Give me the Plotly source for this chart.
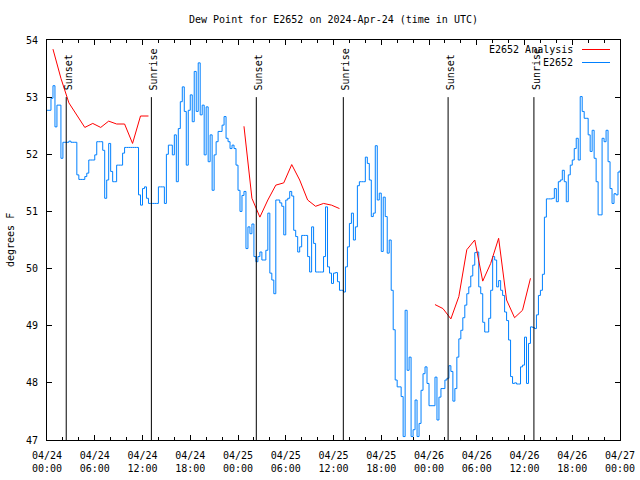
import plotly.graph_objects as go
import pandas as pd

# ---------------- data ----------------
# E2652 observations, every 15 minutes from 2024-04-24 00:00 UTC (deg F)
obs_day1 = [
    52.77, 52.77, 52.98, 53.20, 52.48, 52.86, 52.86, 51.93, 52.21, 52.21, 52.21, 52.23,
    52.21, 52.21, 52.21, 51.64, 51.56, 51.56, 51.56, 51.61, 51.67, 51.90, 51.90, 51.90,
    51.99, 52.22, 52.22, 52.22, 52.07, 51.23, 51.55, 52.19, 51.70, 51.52, 51.52, 51.81,
    51.81, 51.81, 52.02, 52.12, 52.12, 52.12, 52.12, 52.12, 52.12, 52.12, 51.29, 51.11,
    51.40, 51.43, 51.23, 51.14, 51.14, 51.14, 51.14, 51.14, 51.43, 51.43, 51.43, 51.14,
    52.00, 52.16, 52.16, 51.99, 52.34, 51.52, 52.45, 52.92, 53.18, 52.75, 51.81, 52.77,
    53.04, 52.57, 53.45, 52.75, 53.60, 52.69, 52.86, 51.99, 52.83, 51.87, 52.34, 51.37,
    51.99, 52.22, 52.40, 52.40, 52.51, 52.66, 52.28, 52.22, 52.10, 52.16, 52.10, 51.81,
]
obs_day2 = [
    51.37, 51.00, 51.28, 51.35, 50.35, 50.73, 50.61, 50.78, 50.21, 50.12, 50.21, 50.29,
    50.15, 50.15, 50.32, 50.97, 49.92, 49.80, 49.56, 51.20, 51.20, 51.15, 51.09, 50.59,
    51.20, 51.23, 51.35, 51.27, 50.67, 50.56, 50.29, 50.38, 50.58, 50.58, 50.58, 50.21,
    49.94, 50.73, 50.44, 49.94, 49.94, 49.94, 49.94, 50.21, 51.08, 50.03, 49.92, 49.74,
    49.92, 49.93, 49.77, 49.62, 49.62, 49.59, 50.03, 50.38, 50.79, 50.97, 50.50, 50.73,
    51.45, 51.52, 51.52, 51.52, 51.95, 51.84, 51.55, 50.91, 50.97, 52.15, 51.20, 51.32,
    50.30, 51.25, 50.91, 50.27, 50.50, 49.62, 48.93, 48.05, 47.93, 47.93, 47.76, 47.06,
    49.27, 48.22, 48.45, 47.06, 47.18, 47.70, 47.06, 47.29, 47.87, 48.16, 48.28, 47.99,
]
obs_day3 = [
    47.60, 47.60, 47.60, 48.10, 47.35, 47.75, 47.90, 47.90, 48.05, 48.08, 48.30, 48.20,
    47.68, 47.90, 48.45, 48.77, 48.92, 49.14, 49.36, 49.56, 49.68, 49.87, 50.06, 50.28,
    50.29, 49.68, 49.56, 49.06, 48.89, 48.89, 49.13, 49.62, 50.21, 50.15, 49.68, 49.79,
    49.62, 49.53, 49.24, 49.09, 48.75, 48.11, 47.99, 48.00, 47.98, 47.98, 48.28, 48.31,
    48.80, 47.99, 48.69, 48.98, 48.97, 48.95, 49.19, 49.53, 49.62, 49.90, 50.90, 51.22,
    51.22, 51.22, 51.23, 51.40, 51.17, 51.52, 51.55, 51.72, 51.52, 51.17, 51.64, 51.81,
    51.90, 52.10, 52.28, 51.90, 53.01, 52.75, 52.63, 52.63, 52.34, 52.05, 52.42, 51.93,
    51.52, 50.94, 50.94, 52.28, 52.22, 52.42, 51.87, 51.40, 51.14, 51.31, 51.29, 51.69,
    51.72,
]

# E2652 Analysis, hourly from 00:45 to 12:45 each day (deg F)
analysis_starts = ["2024-04-24 00:45", "2024-04-25 00:45", "2024-04-26 00:45"]
analysis_day1 = [53.84, 53.33, 52.90, 52.68, 52.47, 52.54, 52.47, 52.58, 52.53, 52.53, 52.19, 52.67, 52.67]
analysis_day2 = [52.49, 51.23, 50.90, 51.20, 51.46, 51.50, 51.82, 51.55, 51.20, 51.09, 51.14, 51.11, 51.05]
analysis_day3 = [49.37, 49.30, 49.12, 49.51, 50.33, 50.50, 49.78, 50.09, 50.53, 49.45, 49.14, 49.27, 49.83]

sunset_times = ["2024-04-24 02:25", "2024-04-25 02:18", "2024-04-26 02:24"]
sunrise_times = ["2024-04-24 13:07", "2024-04-25 13:14", "2024-04-26 13:11"]

y_range = [47, 54]
x_range = ["2024-04-24 00:00", "2024-04-27 00:00"]
sun_line_top = 53

# ---------------- build ----------------
FONT = "DejaVu Sans Mono"
RED = "#ff0000"
BLUE = "#0080ff"

FIG_W, FIG_H = 640, 480
W0, W1 = 47, 620   # plot area, pixels
H0, H1 = 40, 440

obs_values = obs_day1 + obs_day2 + obs_day3
obs_times = pd.date_range("2024-04-24 00:00", periods=len(obs_values), freq="15min")

ax, ay = [], []
for s, vals in zip(analysis_starts, [analysis_day1, analysis_day2, analysis_day3]):
    t = pd.date_range(s, periods=len(vals), freq="1h")
    ax += list(t) + [None]
    ay += list(vals) + [None]

fig = go.Figure()
fig.add_trace(go.Scatter(x=obs_times, y=obs_values, mode="lines",
                         line=dict(color=BLUE, width=1, shape="hv"),
                         name="E2652", showlegend=False))
fig.add_trace(go.Scatter(x=ax, y=ay, mode="lines", connectgaps=False,
                         line=dict(color=RED, width=1),
                         name="E2652 Analysis", showlegend=False))

shapes = []
annotations = []
for label, times in (("Sunset", sunset_times), ("Sunrise", sunrise_times)):
    for t in times:
        shapes.append(dict(type="line", xref="x", yref="y", x0=t, x1=t,
                           y0=y_range[0], y1=sun_line_top,
                           line=dict(color="black", width=1)))
        annotations.append(dict(xref="x", yref="y", x=t, y=sun_line_top,
                                text=label, textangle=-90, showarrow=False,
                                xanchor="center", yanchor="bottom",
                                xshift=2, yshift=5,
                                font=dict(family=FONT, size=10, color="black")))


def px(x):
    return (x - W0) / (W1 - W0)


def py(y):
    return 1 - (y - H0) / (H1 - H0)


# legend (text right-aligned, sample line on its right)
for name, col, yy in (("E2652 Analysis", RED, 49.5), ("E2652", BLUE, 62.5)):
    annotations.append(dict(xref="paper", yref="paper", x=px(575), y=py(yy),
                            text=name, showarrow=False, xanchor="right", yanchor="middle",
                            font=dict(family=FONT, size=10, color="black")))
    shapes.append(dict(type="line", xref="paper", yref="paper",
                       x0=px(582), x1=px(610), y0=py(yy), y1=py(yy),
                       line=dict(color=col, width=1)))

annotations.append(dict(xref="paper", yref="paper", x=px(10), y=0.5,
                        text="degrees F", textangle=-90, showarrow=False,
                        xanchor="center", yanchor="middle",
                        font=dict(family=FONT, size=10, color="black")))

fig.update_layout(
    width=FIG_W, height=FIG_H,
    margin=dict(l=W0, r=FIG_W - W1, t=H0, b=FIG_H - H1, pad=0),
    paper_bgcolor="white", plot_bgcolor="white",
    title=dict(text="Dew Point for E2652 on 2024-Apr-24 (time in UTC)",
               x=0.5, xref="paper", xanchor="center",
               y=1 - 19 / FIG_H, yref="container", yanchor="middle",
               font=dict(family=FONT, size=10, color="black")),
    shapes=shapes, annotations=annotations,
    showlegend=False,
    xaxis=dict(type="date", range=x_range, dtick=6 * 3600 * 1000,
               tick0="2024-04-24 00:00", tickformat="%m/%d<br>%H:%M",
               ticks="inside", ticklen=5, tickcolor="black", tickwidth=1,
               minor=dict(dtick=2 * 3600 * 1000, ticks="inside", ticklen=3,
                          tickcolor="black", showgrid=False),
               showline=True, linecolor="black", linewidth=1, mirror="ticks",
               showgrid=False, zeroline=False, automargin=False,
               ticklabelstandoff=6,
               tickfont=dict(family=FONT, size=10, color="black")),
    yaxis=dict(range=y_range, dtick=1, ticks="inside", ticklen=5,
               tickcolor="black", tickwidth=1,
               showline=True, linecolor="black", linewidth=1, mirror="ticks",
               showgrid=False, zeroline=False, ticklabelstandoff=6, automargin=False,
               tickfont=dict(family=FONT, size=10, color="black")),
)

# remove the page's default 8px body margin so the figure sits at the window origin
fig.write_html("out.html", config={"displayModeBar": False},
               post_script="document.body.style.margin='0';")
